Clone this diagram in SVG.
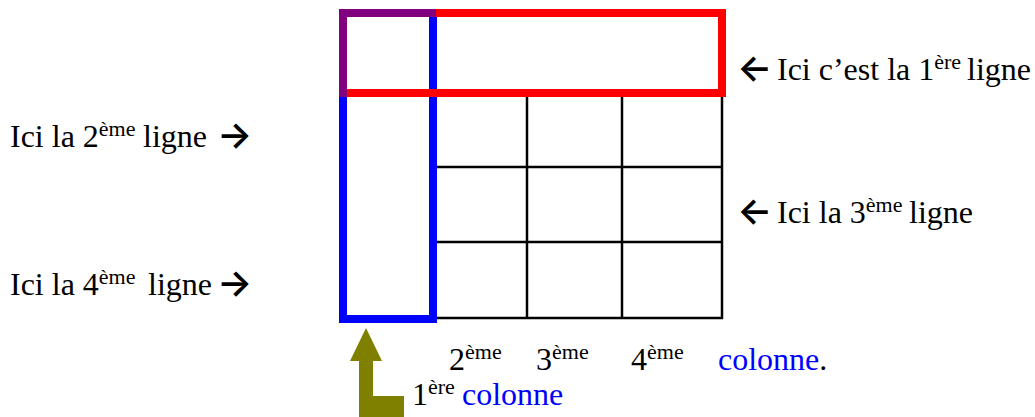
<svg xmlns="http://www.w3.org/2000/svg" width="1035" height="417" viewBox="0 0 1035 417">
<style>
.t{font-family:"Liberation Serif","Times New Roman",serif;font-size:32px;fill:#000}
.sup{font-size:22px}
.blue{fill:#0000ff}
.arr{font-family:Inter,"DejaVu Sans",sans-serif;font-weight:600;font-size:37px;fill:#000}
.grid{stroke:#000;stroke-width:2.5;fill:none}
</style>
<rect width="1035" height="417" fill="#fff"/>
<g id="grid">
<line class="grid" x1="527" y1="97" x2="527" y2="319"/>
<line class="grid" x1="622" y1="97" x2="622" y2="319"/>
<line class="grid" x1="722" y1="97" x2="722" y2="319"/>
<line class="grid" x1="437" y1="167" x2="722" y2="167"/>
<line class="grid" x1="437" y1="242" x2="722" y2="242"/>
<line class="grid" x1="437" y1="318" x2="723" y2="318"/>
</g>
<g id="colonne1">
<rect x="343" y="13" width="90" height="306" fill="none" stroke="#0000ff" stroke-width="8"/>
</g>
<g id="ligne1">
<rect x="343" y="13" width="379" height="80" fill="none" stroke="#ff0000" stroke-width="8"/>
</g>
<g id="coin">
<path d="M339 9H436V17H347V97H339Z" fill="#800080"/>
</g>
<g id="connectors">
<polygon points="366,328 382,361 373,361 373,396 404,396 404,417 359,417 359,361 350,361" fill="#808000"/>
</g>
<g id="labels">
<text class="t" x="737" y="81"><tspan class="arr">←</tspan><tspan x="777" dy="-1">Ici c’est la 1</tspan><tspan class="sup" dy="-11">ère</tspan><tspan dy="11" x="967">ligne</tspan></text>
<text class="t" x="737" y="224"><tspan class="arr">←</tspan><tspan x="777" dy="-1">Ici la 3</tspan><tspan class="sup" dy="-11">ème</tspan><tspan dy="11" x="909">ligne</tspan></text>
<text class="t" x="10" y="147">Ici la 2<tspan class="sup" dy="-11">ème</tspan><tspan dy="11" x="143">ligne</tspan><tspan class="arr" x="217" dy="1">→</tspan></text>
<text class="t" x="10" y="295">Ici la 4<tspan class="sup" dy="-11">ème</tspan><tspan dy="11" x="148">ligne</tspan><tspan class="arr" x="217" dy="1">→</tspan></text>
<text class="t" x="449" y="370">2<tspan class="sup" dy="-11">ème</tspan></text>
<text class="t" x="536" y="370">3<tspan class="sup" dy="-11">ème</tspan></text>
<text class="t" x="631" y="370">4<tspan class="sup" dy="-11">ème</tspan></text>
<text class="t" x="718" y="370"><tspan class="blue">colonne</tspan>.</text>
<text class="t" x="412" y="405">1<tspan class="sup" dy="-11">ère</tspan><tspan class="blue" dy="11" x="462">colonne</tspan></text>
</g>
</svg>
